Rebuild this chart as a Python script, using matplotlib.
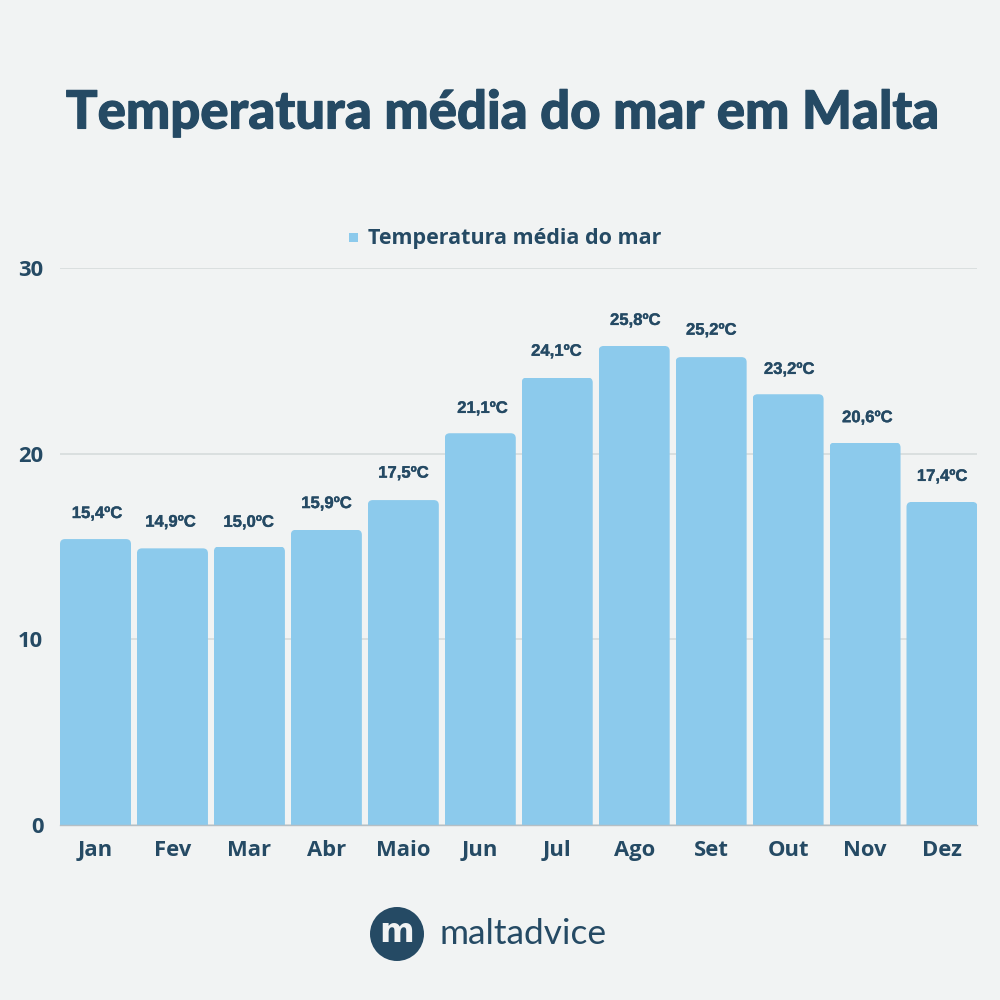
import matplotlib
matplotlib.use('Agg')
import matplotlib.pyplot as plt
import matplotlib.patheffects as pe
from matplotlib.patches import FancyBboxPatch, Circle, Rectangle
from matplotlib.transforms import IdentityTransform

months = ['Jan','Fev','Mar','Abr','Maio','Jun','Jul','Ago','Set','Out','Nov','Dez']
temps = [15.4,14.9,15.0,15.9,17.5,21.1,24.1,25.8,25.2,23.2,20.6,17.4]
labels = ['15,4ºC','14,9ºC','15,0ºC','15,9ºC','17,5ºC','21,1ºC','24,1ºC','25,8ºC','25,2ºC','23,2ºC','20,6ºC','17,4ºC']
yticks = [0,10,20,30]
# hand-placed label nudges seen in the reference (points)
nudge_x = [1,-1.5,-0.7,0,0,1.5,-0.7,0.7,0,0.7,1.5,0]
nudge_y = [13,13.5,12,13.5,14,12.5,13.5,13,14,12.5,12.5,13]

BG='#F1F3F3'; DARK='#254A64'; BLUE='#8CCAEC'; GRID='#DADFDF'
W=H=1000
fig=plt.figure(figsize=(10,10),dpi=100,facecolor=BG)
ax=fig.add_axes([60/W,1-825/H,917/W,557/H],facecolor=BG)
step=76.95
ax.set_xlim(-35.5/step,11+35/step)
ax.set_ylim(0,30)
ax.grid(axis='y',color=GRID,lw=1.4,zorder=0)
ax.set_axisbelow(True)
for s in ax.spines.values(): s.set_visible(False)
ax.spines['bottom'].set_visible(True); ax.spines['bottom'].set_color('#B5BFC5'); ax.spines['bottom'].set_linewidth(1.0)
bars=ax.bar(range(12),temps,width=71/step,color=BLUE,zorder=2,label='Temperatura média do mar')
r=5
for b in bars:
    x0=ax.transData.transform((b.get_x(),0)); x1=ax.transData.transform((b.get_x()+b.get_width(),b.get_height()))
    clip=FancyBboxPatch((x0[0],x0[1]-20),x1[0]-x0[0],x1[1]-x0[1]+20,boxstyle=f'round,pad=0,rounding_size={r}',transform=IdentityTransform())
    b.set_clip_path(clip)
for i,(t,l) in enumerate(zip(temps,labels)):
    ax.annotate(l,(i,t),xytext=(nudge_x[i],nudge_y[i]),textcoords='offset points',ha='center',va='bottom',
                fontsize=12,fontweight='bold',family='Liberation Sans',color=DARK,zorder=3,
                path_effects=[pe.withStroke(linewidth=0.25,foreground=DARK)])
ax.set_xticks(range(12)); ax.set_xticklabels(months,family='Open Sans',fontweight='bold',fontsize=15.8,color=DARK)
ax.set_yticks(yticks); ax.set_yticklabels([str(v) for v in yticks],family='Open Sans',fontweight='bold',fontsize=15.8,color=DARK)
ax.tick_params(axis='both',length=0)
ax.tick_params(axis='x',pad=10.5)
ax.tick_params(axis='y',pad=12)

fig.text(502/W,1-113/H,'Temperatura média do mar em Malta',ha='center',va='center',family='Lato',fontweight='black',fontsize=37.9,color=DARK,
         path_effects=[pe.withStroke(linewidth=0.8,foreground=DARK)])
fig.text(368/W,1-238.5/H,'Temperatura média do mar',ha='left',va='center',family='Open Sans',fontweight='bold',fontsize=15.5,color=DARK)
fig.add_artist(Rectangle((349/W,1-242/H),9/W,9/H,transform=fig.transFigure,color=BLUE,lw=0))
fig.add_artist(Circle((397,1000-934),27,transform=IdentityTransform(),color=DARK,lw=0))
fig.text(397/W,1-932/H,'m',ha='center',va='center',family='DejaVu Sans',fontweight='bold',fontsize=24,color=BG)
fig.text(440/W,1-934/H,'maltadvice',ha='left',va='center',family='Lato',fontweight='normal',fontsize=25.4,color=DARK)
fig.savefig('out.png',dpi=100,facecolor=BG)
